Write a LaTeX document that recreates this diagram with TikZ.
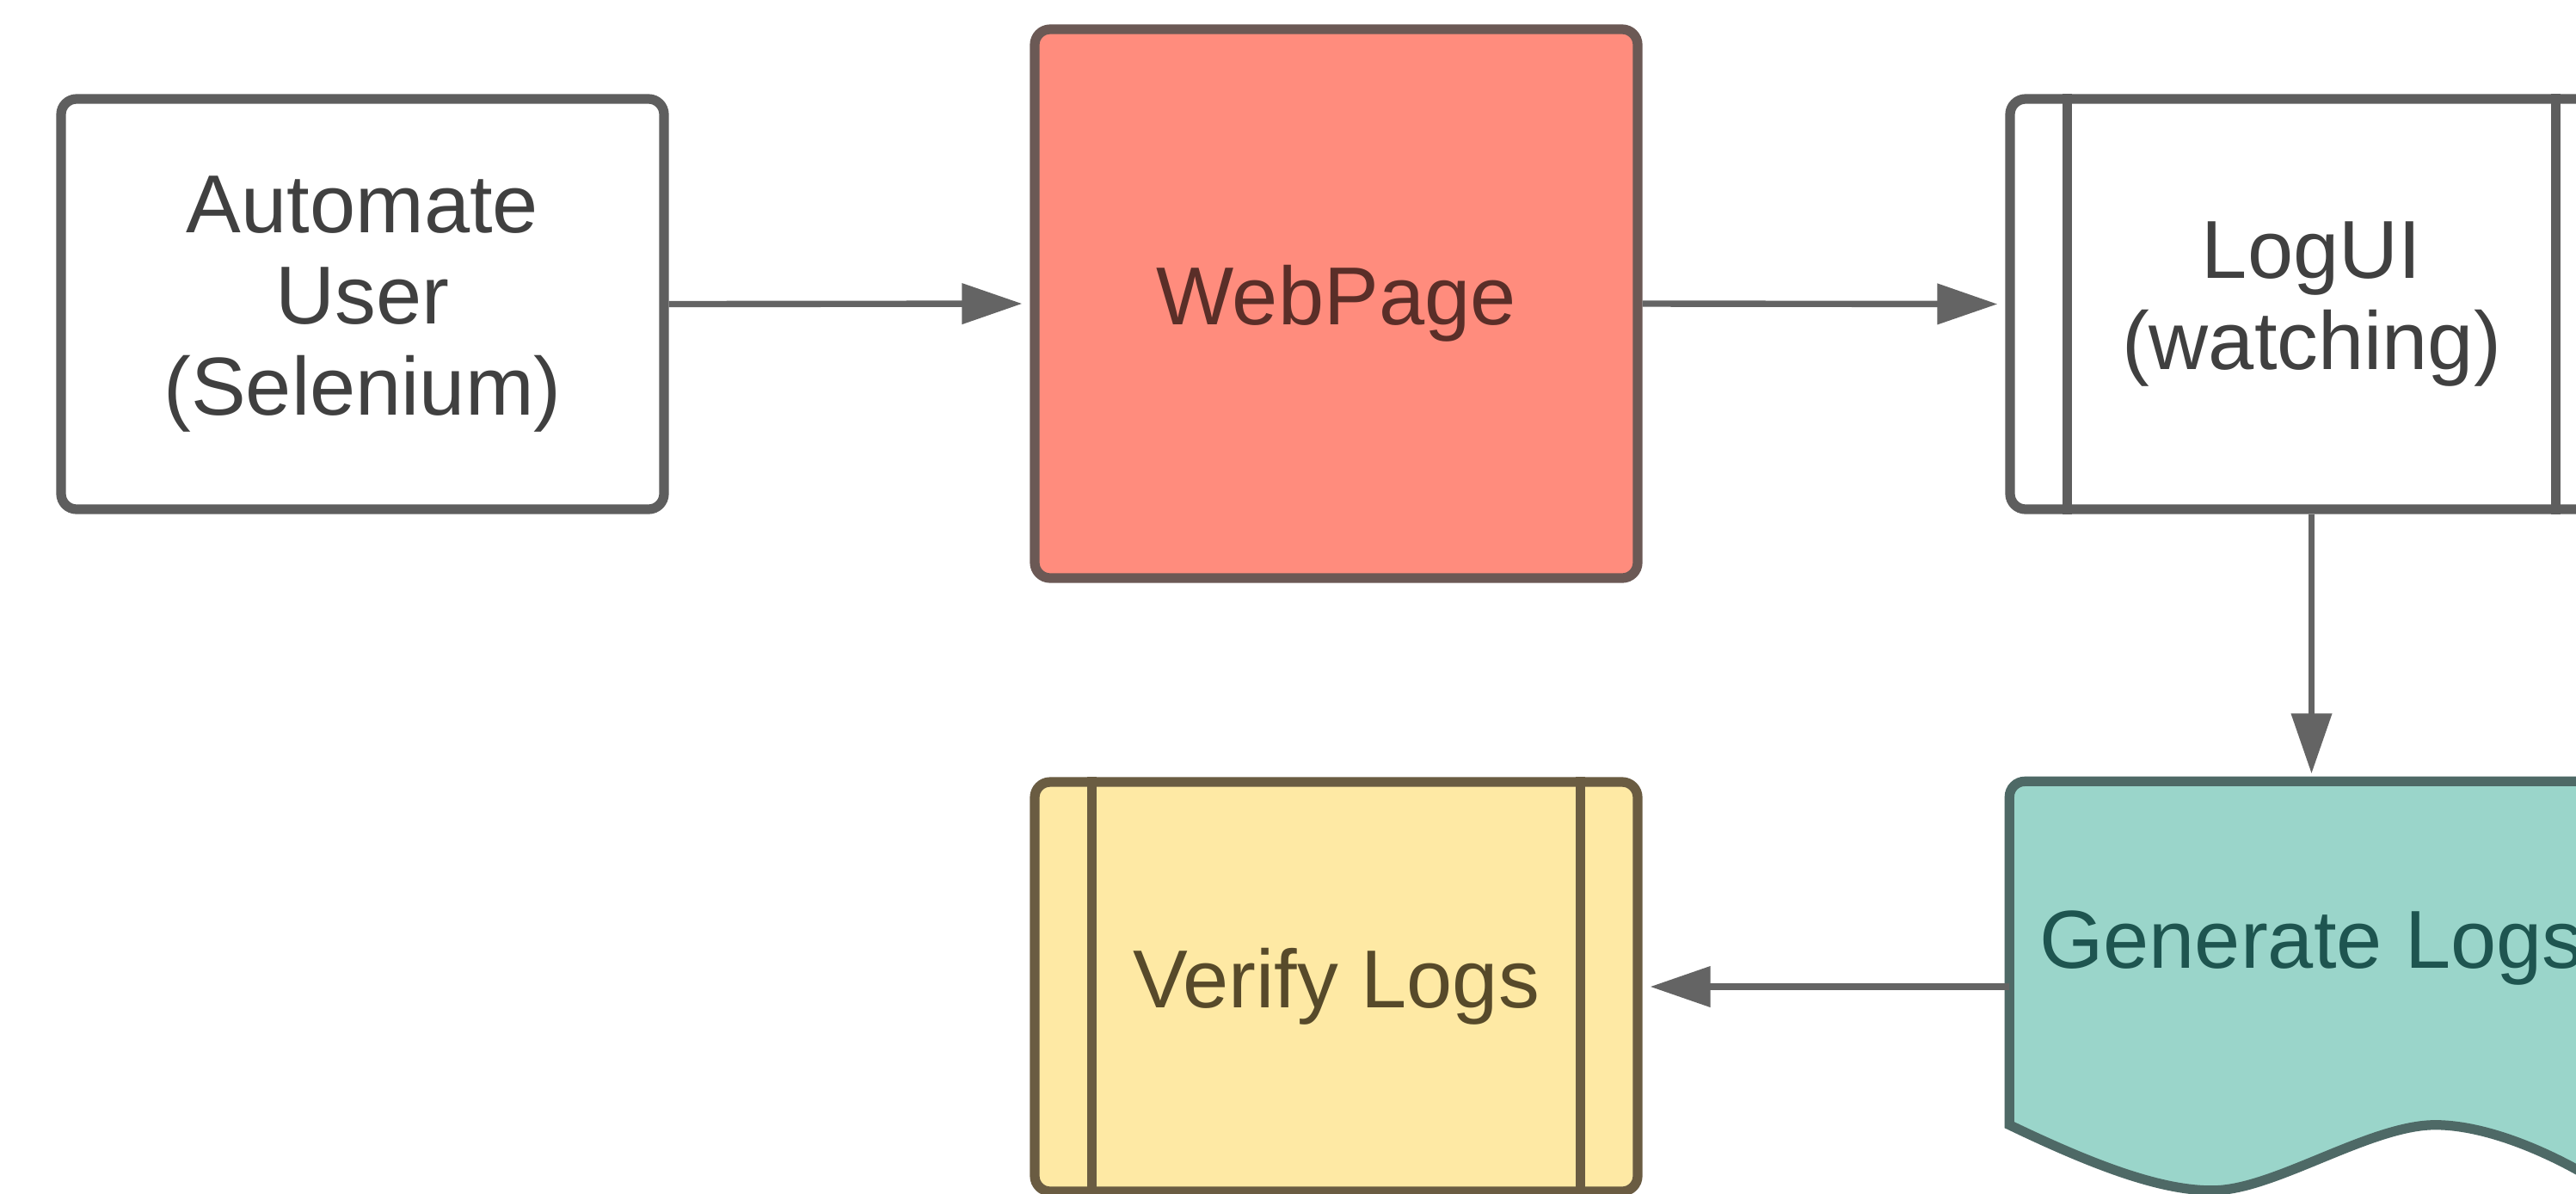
\documentclass[tikz,border=0pt]{standalone}
\usepackage{fontspec}
\setmainfont{Liberation Sans}
\usetikzlibrary{arrows.meta,calc}
\definecolor{bordergray}{HTML}{5E5E5E}
\definecolor{conngray}{HTML}{646464}
\definecolor{salmonfill}{HTML}{FF8C7D}
\definecolor{salmonborder}{HTML}{6B5955}
\definecolor{salmontext}{HTML}{5A2E28}
\definecolor{yellowfill}{HTML}{FEE9A4}
\definecolor{yellowborder}{HTML}{6A5C42}
\definecolor{yellowtext}{HTML}{574A2A}
\definecolor{tealfill}{HTML}{9AD5CA}
\definecolor{tealborder}{HTML}{4E6966}
\definecolor{tealtext}{HTML}{1E5550}
\definecolor{graytext}{HTML}{404040}
\begin{document}
\begin{tikzpicture}[
  font=\fontsize{27.2}{30.2}\selectfont,
  procbox/.style={draw=bordergray, line width=3.2pt, rounded corners=0.18cm,
    minimum width=7.01cm, minimum height=4.77cm, align=center, inner sep=0pt,
    text=graytext, fill=white},
  innerline/.style={line width=3.2pt},
  conn/.style={draw=conngray, line width=2.1pt,
    -{Triangle[length=0.7cm,width=0.46cm]}, shorten >=0.09cm},
]
\useasboundingbox (0,0) rectangle (29.95,-13.87);
\fill[white] (0,0) rectangle (29.95,-13.87);

% Automate User
\node[procbox] (A) at (4.215,-3.535) {Automate\\User\\(Selenium)};

% WebPage
\node[procbox, fill=salmonfill, draw=salmonborder, text=salmontext,
  minimum height=6.38cm] (B) at (15.535,-3.53) {WebPage};

% LogUI (watching)
\node[procbox] (C) at (26.875,-3.535) {LogUI\\(watching)};
\draw[innerline, bordergray] ($(C.north west)+(0.72,0)$) -- ($(C.south west)+(0.72,0)$);
\draw[innerline, bordergray] ($(C.north east)+(-0.72,0)$) -- ($(C.south east)+(-0.72,0)$);

% Verify Logs
\node[procbox, fill=yellowfill, draw=yellowborder, text=yellowtext,
  minimum height=4.76cm] (D) at (15.535,-11.47) {Verify Logs};
\draw[innerline, yellowborder] ($(D.north west)+(0.72,0)$) -- ($(D.south west)+(0.72,0)$);
\draw[innerline, yellowborder] ($(D.north east)+(-0.72,0)$) -- ($(D.south east)+(-0.72,0)$);

% Generate Logs (document shape)
\node[minimum width=7.01cm, minimum height=4.76cm, inner sep=0pt] (E) at (26.875,-11.47) {};
\filldraw[fill=tealfill, draw=tealborder, line width=3.2pt]
  ($(E.south west)+(0,0.78)$) [rounded corners=0.18cm] -- (E.north west) -- (E.north east)
  -- (E.south east) [sharp corners]
  .. controls ($(E.south west)+(6.4,0.4)$) and ($(E.south west)+(5.6,0.78)$) .. ($(E.south west)+(4.95,0.78)$)
  .. controls ($(E.south west)+(4.2,0.78)$) and ($(E.south west)+(3.1,0.04)$) .. ($(E.south west)+(2.4,0.02)$)
  .. controls ($(E.south west)+(1.8,0)$) and ($(E.south west)+(1.0,0.3)$) .. ($(E.south west)+(0,0.78)$)
  -- cycle;
\node[text=tealtext, inner sep=0pt] (Etext) at ($(E.center)+(0,0.45)$) {Generate Logs};

% connectors
\draw[conn] (A.east) -- (B.west);
\draw[conn] (B.east) -- (C.west);
\draw[conn] (C.south) -- (E.north);
\draw[conn] (E.west) -- (D.east);
\end{tikzpicture}
\end{document}
